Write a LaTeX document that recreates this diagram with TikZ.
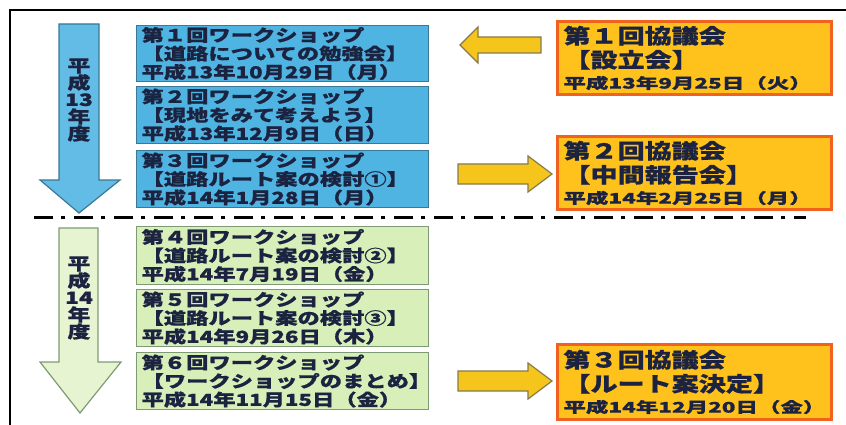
\documentclass[tikz,border=0pt]{standalone}
\usepackage{fontspec}
\newfontfamily\jpws{Noto Sans CJK JP}[FakeStretch=1.35,BoldFeatures={FakeBold=0.8}]
\newfontfamily\jpkyo{Noto Sans CJK JP}[FakeStretch=1.32,BoldFeatures={FakeBold=0.8}]
\newfontfamily\jpdate{Noto Sans CJK JP}[FakeStretch=1.55,BoldFeatures={FakeBold=0.8}]
\definecolor{wsblue}{HTML}{4FB4E1}
\definecolor{wsblueline}{HTML}{3A7896}
\definecolor{arrblue}{HTML}{62BCE6}
\definecolor{wsgreen}{HTML}{D8EFBA}
\definecolor{wsgreenline}{HTML}{7E9A74}
\definecolor{arrgreen}{HTML}{E6F4D2}
\definecolor{kyofill}{HTML}{FFC21C}
\definecolor{kyoline}{HTML}{F0621E}
\definecolor{arryellow}{HTML}{F6C51C}
\definecolor{arryline}{HTML}{857A4C}
\definecolor{textnavy}{HTML}{1C2340}

\begin{document}
\begin{tikzpicture}[x=1pt,y=-1pt,
  ws node/.style={draw=wsblueline,fill=wsblue,line width=1.2pt,anchor=north west,
    minimum width=292pt,text width=282pt,inner xsep=5pt,inner ysep=0.5pt,align=left,
    font=\jpws\bfseries\fontsize{16.5}{18.5}\selectfont,text=textnavy},
  ws14 node/.style={ws node,draw=wsgreenline,fill=wsgreen},
  kyo node/.style={draw=kyoline,fill=kyofill,line width=3pt,anchor=north west,
    minimum width=274pt,text width=262pt,inner xsep=6pt,inner ysep=4pt,align=left,
    font=\jpkyo\bfseries\fontsize{20.5}{24}\selectfont,text=textnavy},
  year node/.style={align=center,font=\jpws\bfseries\fontsize{17}{17}\selectfont,text=textnavy},
  yr arrow/.style={draw=wsblueline,fill=arrblue,line width=1.2pt},
  yr14 arrow/.style={draw=wsgreenline,fill=arrgreen,line width=1.2pt},
  ky arrow/.style={draw=arryline,fill=arryellow,line width=1.2pt},
  sep line/.style={line width=3pt,dash pattern=on 19pt off 8pt on 4pt off 9pt}]
  \useasboundingbox (0,0) rectangle (846,425);
  \draw[line width=2pt] (10,425) -- (10,10) -- (846,10);

  % fiscal year arrows
  \draw[yr arrow] (59,24) -- (99,24) -- (99,180) -- (120,180) -- (79,213) -- (40,180) -- (59,180) -- cycle;
  \node[year node] (y13) at (79,100) {平\\成\\13\\年\\度};
  \draw[yr14 arrow] (59,228) -- (98,228) -- (98,362) -- (121,362) -- (80,413) -- (40,362) -- (59,362) -- cycle;
  \node[year node] (y14) at (79,298) {平\\成\\14\\年\\度};

  % workshops
  \node[ws node,minimum height=56pt] (ws1) at (136,25) {第１回ワークショップ\\【道路についての勉強会】\\ 平成13年10月29日（月）};
  \node[ws node,minimum height=57pt] (ws2) at (136,86) {第２回ワークショップ\\【現地をみて考えよう】\\平成13年12月9日（日）};
  \node[ws node,minimum height=57pt] (ws3) at (136,150) {第３回ワークショップ\\【道路ルート案の検討①】\\平成14年1月28日（月）};
  \node[ws14 node,minimum height=58pt] (ws4) at (136,226) {第４回ワークショップ\\【道路ルート案の検討②】\\平成14年7月19日（金）};
  \node[ws14 node,minimum height=57pt] (ws5) at (136,289) {第５回ワークショップ\\【道路ルート案の検討③】\\平成14年9月26日（木）};
  \node[ws14 node,minimum height=57pt] (ws6) at (136,352) {第６回ワークショップ\\【ワークショップのまとめ】\\平成14年11月15日（金）};

  % councils
  \node[kyo node,minimum height=73pt] (kyo1) at (556,20) {第１回協議会\\【設立会】\\[-3pt]{\jpdate\fontsize{14.5}{17}\selectfont 平成13年9月25日（火）}};
  \node[kyo node,minimum height=73pt] (kyo2) at (556,135) {第２回協議会\\【中間報告会】\\[-3pt]{\jpdate\fontsize{14.5}{17}\selectfont 平成14年2月25日（月）}};
  \node[kyo node,minimum height=75pt] (kyo3) at (556,343) {第３回協議会\\【ルート案決定】\\[-3pt]{\jpdate\fontsize{14.5}{17}\selectfont 平成14年12月20日（金）}};

  \draw[ky arrow] (460,45) -- (478,27) -- (478,37) -- (541,37) -- (541,53) -- (478,53) -- (478,63) -- cycle;
  \draw[ky arrow] (458,164) -- (528,164) -- (528,156) -- (552,174) -- (528,192) -- (528,184) -- (458,184) -- cycle;
  \draw[ky arrow] (458,371) -- (528,371) -- (528,363) -- (552,381) -- (528,399) -- (528,391) -- (458,391) -- cycle;

  \draw[sep line] (34,217) -- (806,217);
\end{tikzpicture}
\end{document}
